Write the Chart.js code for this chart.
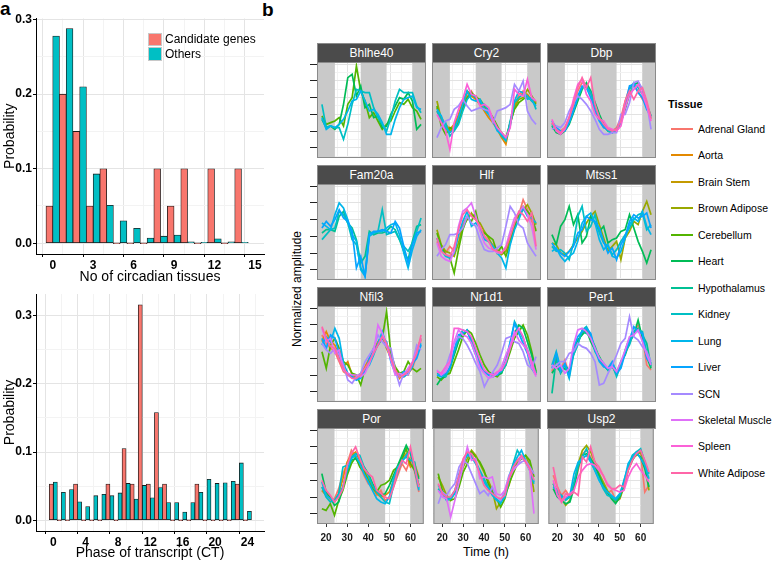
<!DOCTYPE html>
<html>
<head>
<meta charset="utf-8">
<script src="https://cdn.jsdelivr.net/npm/chart.js@4.4.0/dist/chart.umd.min.js"></script>
<style>
  body { margin: 0; background: #fff; font-family: 'Liberation Sans', Arial, sans-serif; }
  #fig { position: relative; width: 773px; height: 562px; overflow: hidden; background: #fff; }
  #fig canvas { position: absolute; }
  .txt { position: absolute; white-space: nowrap; color: #000; }
  .panelLabel { font-weight: bold; font-size: 19px; line-height: 19px; }
  .strip { position: absolute; box-sizing: border-box; background: #4b4b4b; border: 1px solid #8a8a8a;
           color: #fff; font-size: 12px; text-align: center; line-height: 18px; }
  .legA { position: absolute; left: 148px; top: 32px; font-size: 12px; }
  .legA .row { height: 14.5px; line-height: 14.5px; display: flex; align-items: center; }
  .legA .key { width: 14px; height: 13.5px; box-sizing: border-box; border: 1px solid #c8c8c8; margin-right: 3px; }
  .legB { position: absolute; left: 668px; top: 0; }
  .legB .title { position: absolute; left: 0; top: 98px; font-weight: bold; font-size: 11px; }
  .legB .item { position: absolute; left: 3px; height: 14px; font-size: 10.5px; line-height: 14px; white-space: nowrap; }
  .legB .line { position: absolute; left: 0; top: 6px; width: 22px; height: 2px; }
  .legB .name { position: absolute; left: 27px; top: 0; }
</style>
</head>
<body>
<div id="fig">
  <div class="txt panelLabel" style="left:0px;top:-1px;">a</div>
  <div class="txt panelLabel" style="left:262px;top:0px;">b</div>
  <canvas id="countChart"></canvas>
  <canvas id="phaseChart"></canvas>
  <div class="legA">
    <div class="row"><span class="key" style="background:#F8766D"></span>Candidate genes</div>
    <div class="row"><span class="key" style="background:#00BFC4"></span>Others</div>
  </div>
  <div class="txt" style="left:297px;top:289px;font-size:12px;transform:translate(-50%,-50%) rotate(-90deg);">Normalized amplitude</div>
  <div class="txt" style="left:486px;top:552px;font-size:12.5px;transform:translate(-50%,-50%);">Time (h)</div>
  <div class="legB" id="legB"><div class="title">Tissue</div></div>
</div>
<script>
// ---- panel a data ----
const tissueCounts = [0,1,2,3,4,5,6,7,8,9,10,11,12,13,14];
const candidateCountProb = [0.05,0.2,0.15,0.05,0.1,0,0,0,0.1,0.05,0.1,0,0.1,0,0.1];
const otherCountProb = [0.278,0.288,0.21,0.093,0.051,0.03,0.02,0.007,0.0095,0.011,0.002,0.001,0.006,0.002,0.001];
const countTicks = [0,3,6,9,12,15];

const phases = [0,1,2,3,4,5,6,7,8,9,10,11,12,13,14,15,16,17,18,19,20,21,22,23,24];
const candidatePhaseProb = [0.053,0,0,0.053,0,0,0,0.053,0,0.105,0.053,0.316,0.053,0.158,0.053,0,0,0,0.053,0,0,0,0,0.053,0];
const otherPhaseProb = [0.056,0.041,0.045,0.027,0.02,0.036,0.038,0.036,0.04,0.054,0.031,0.051,0.033,0.048,0.026,0.026,0.012,0.026,0.041,0.06,0.054,0.055,0.057,0.084,0.013];
const phaseTicks = [0,4,8,12,16,20,24];

// ---- panel b data ----
const times = [18,20,22,24,26,28,30,32,34,36,38,40,42,44,46,48,50,52,54,56,58,60,62,64];
const timeTicks = [20,30,40,50,60];
const nightBands = [[10,24],[36,48],[60,70]];
const tissues = ['Adrenal Gland','Aorta','Brain Stem','Brown Adipose','Cerebellum','Heart','Hypothalamus',
  'Kidney','Lung','Liver','SCN','Skeletal Muscle','Spleen','White Adipose'];
const tissueColors = ['#F8766D','#E38900','#C49A00','#99A800','#53B400','#00BC56','#00C094',
  '#00BFC4','#00B6EB','#06A4FF','#A58AFF','#DF70F8','#FB61D7','#FF66A8'];
const genes = ['Bhlhe40','Cry2','Dbp','Fam20a','Hlf','Mtss1','Nfil3','Nr1d1','Per1','Por','Tef','Usp2'];

const bhlhe40 = {
  'Cerebellum': [-0.1,-0.6,-0.5,-0.4,-0.2,-0.7, 0.6,1.0,2.9,1.4,0.8,-0.2, 0.1,-0.4,-0.9,-0.6,-0.4,0.2, 0.7,0.6,0.9,0.4,0.2,-0.3],
  'Heart': [-0.3,-0.8,-0.7,-0.9,-0.6,0.6, 2.2,2.4,1.1,1.7,0.4,0.6, -0.2,-0.1,-0.8,-0.7,0.0,0.5, 1.0,0.9,1.3,0.8,-0.9,-0.6],
  'Kidney': [0.6,-0.8,-0.7,-0.8,-0.8,-1.5, -0.6,0.6,1.5,1.4,1.3,1.3, 0.4,-0.2,-0.6,-1.0,-0.2,0.8, 1.5,1.3,1.3,1.3,0.5,0.1],
  'Lung': [-0.2,-0.9,-0.7,-0.8,-0.6,-0.3, 0.2,0.8,0.9,1.4,0.8,0.2, 0.3,0.0,-0.5,-1.2,-1.2,-0.3, 0.4,0.9,1.0,1.1,0.4,0.3]
};
const cry2 = {
  'Adrenal Gland': [0.2,-0.5,-0.8,-1.0,-0.7,0.0, 0.7,1.1,1.4,0.9,0.6,0.4, 0.0,-0.4,-0.8,-1.2,-1.6,-0.5, 0.5,1.2,1.4,1.0,0.9,0.7],
  'Aorta': [0.4,-0.2,-0.6,-0.9,-0.6,-0.1, 0.8,1.3,1.1,0.9,0.6,0.2, -0.2,-0.5,-0.9,-1.4,-1.8,-0.5, 0.6,1.0,1.3,1.2,0.8,0.6],
  'Brown Adipose': [0.8,-0.3,-0.9,-1.0,-0.8,-0.3, 0.5,1.4,1.2,1.1,0.8,0.4, 0.1,-0.4,-0.8,-1.1,-1.4,-0.6, 0.4,0.9,1.0,1.5,1.1,0.7],
  'Cerebellum': [0.5,-0.7,-1.2,-0.8,-0.9,-0.5, 0.4,1.0,1.3,1.0,0.9,0.5, 0.2,-0.2,-0.7,-1.2,-1.5,-0.5, 0.3,0.7,0.9,1.1,0.8,0.6],
  'Kidney': [0.2,-0.4,-0.5,-1.3,-1.0,-0.6, 0.2,0.9,1.2,1.0,0.7,0.6, 0.2,-0.3,-0.9,-1.3,-1.6,-0.4, 0.7,1.0,1.2,0.9,1.0,0.3],
  'Lung': [0.3,-0.1,-0.8,-1.1,-0.9,-0.2, 0.6,1.4,0.9,0.8,0.9,0.3, 0.0,-0.4,-1.0,-1.2,-1.5,-0.7, 0.8,1.4,1.3,1.1,0.8,0.5],
  'SCN': [-1.4,-0.8,-0.4,-0.3,0.3,0.5, 0.9,0.5,0.2,0.3,0.4,0.3, 0.2,-0.5,0.2,0.3,0.4,0.6, 1.8,1.4,2.0,0.2,-0.3,-0.6],
  'Spleen': [0.0,-0.5,-1.0,-2.1,-0.5,0.3, 0.9,1.8,1.2,1.1,0.5,0.6, 0.4,-0.3,-0.8,-1.1,-1.4,-0.8, 1.5,1.2,1.1,2.1,1.0,0.8]
};
const dbp = {
  'Adrenal Gland': [-0.5,-0.9,-1.0,-0.8,-0.2,0.6, 1.4,1.9,1.8,1.2,0.3,-0.3, -0.8,-0.9,-1.0,-0.8,-0.2,0.8, 1.6,1.7,1.4,0.9,0.5,-0.3],
  'Heart': [-0.7,-1.1,-1.2,-1.0,-0.6,0.1, 0.8,1.5,1.9,1.4,0.7,0.0, -0.6,-1.0,-1.1,-1.0,-0.5,0.3, 1.2,1.8,1.9,1.5,0.6,-0.1],
  'Kidney': [-0.6,-1.0,-1.1,-0.9,-0.4,0.3, 1.0,1.6,1.7,1.3,0.5,-0.2, -0.7,-1.0,-1.1,-0.9,-0.5,0.5, 1.5,1.9,1.6,1.2,0.4,-0.2],
  'Liver': [-0.4,-0.8,-1.0,-1.0,-0.5,0.2, 1.1,1.7,1.6,1.0,0.2,-0.4, -0.8,-0.9,-1.0,-0.9,-0.4,0.6, 1.7,1.8,1.3,1.0,0.3,-0.1],
  'SCN': [-0.9,-0.7,-0.8,-0.5,0.2,0.7, 1.1,0.9,0.6,0.2,-0.3,-0.9, -1.2,-1.2,-1.1,-1.1,0.0,0.0, 0.7,1.9,2.0,1.5,0.7,-0.9],
  'Spleen': [-0.3,-1.0,-1.2,-0.9,-0.2,0.9, 1.8,2.1,1.2,0.8,0.0,-0.3, -0.4,-0.8,-0.9,-1.0,-0.7,0.4, 1.2,1.5,1.8,1.2,0.5,-0.4],
  'White Adipose': [-0.5,-0.9,-1.1,-0.8,-0.2,0.6, 1.6,2.2,1.6,2.2,0.6,-0.2, -0.6,-0.9,-1.0,-0.9,-0.4,0.8, 1.4,0.9,1.4,1.6,0.8,-0.2]
};
const fam20a = {
  'Hypothalamus': [0.2,0.4,0.4,0.3,1.2,1.5, 0.8,0.5,-0.2,-1.6,-1.2,0.3, 0.1,0.2,0.2,0.3,0.6,0.4, -0.2,-0.9,-1.4,-0.3,0.6,0.7],
  'Kidney': [-0.2,0.1,0.4,0.5,1.5,1.3, 0.8,-0.2,-0.5,-1.9,-2.3,0.2, 0.2,0.3,1.6,0.1,0.2,0.3, -0.2,-0.6,-0.9,-0.4,0.3,1.1],
  'Lung': [0.8,0.6,0.4,1.3,2.0,1.7, 1.0,0.1,-0.3,-2.0,-2.4,0.0, 0.2,0.3,0.3,0.5,0.7,0.8, 0.1,-1.0,-1.9,-0.8,0.0,0.4],
  'Liver': [0.5,0.9,0.6,1.0,1.6,1.1, 0.9,0.3,-1.9,-1.2,-2.4,0.1, 0.3,0.3,0.4,0.3,0.2,0.9, 0.5,-0.6,-1.6,-0.5,0.2,0.3]
};
const hlf = {
  'Adrenal Gland': [-0.3,-0.8,-1.0,-0.6,-0.9,0.0, 0.7,1.2,1.3,1.1,0.5,0.0, -0.3,-0.5,-0.8,-1.0,-0.9,-0.2, 0.6,1.3,2.2,1.6,0.9,0.4],
  'Brown Adipose': [0.4,-0.5,-0.9,-1.0,-1.2,-0.4, 0.6,1.0,1.4,1.0,0.8,0.3, -0.1,-0.6,-0.9,-1.1,-0.9,-0.1, 0.7,1.2,1.6,1.9,1.4,0.7],
  'Cerebellum': [0.2,-0.6,-1.1,-1.3,-2.2,-0.8, 0.4,1.1,0.9,1.5,0.4,0.2, 0.0,-0.2,-1.0,-0.6,-1.2,-0.4, 0.5,1.4,1.8,1.5,1.2,0.3],
  'Lung': [-0.1,-0.8,-1.2,-1.3,-1.0,0.1, 0.9,1.5,0.6,0.8,0.5,-0.2, -0.3,-0.6,-1.0,-1.3,-1.9,-0.5, 0.4,1.0,1.7,1.2,1.1,0.8],
  'SCN': [-1.2,-0.8,-0.5,0.1,0.1,0.2, 0.5,1.2,0.8,0.6,-0.2,-0.8, -0.9,-0.9,-0.7,-0.5,0.6,1.8, 1.4,0.7,0.5,-0.4,-0.8,-1.2],
  'Skeletal Muscle': [-0.4,-1.2,-1.4,-1.5,-0.9,0.6, 1.5,1.7,2.0,1.2,0.3,-0.4, -0.7,-0.8,-1.0,-1.0,-0.6,0.3, 1.1,1.4,1.8,1.3,0.6,-0.8],
  'White Adipose': [-0.1,-0.9,-1.1,-1.2,-0.6,0.4, 1.3,1.6,1.2,1.0,0.6,0.0, -0.3,-0.8,-0.9,-1.0,-0.7,0.0, 0.8,1.5,1.3,0.9,1.4,-0.6]
};
const mtss1 = {
  'Brown Adipose': [-0.4,-0.5,-1.0,-1.1,-0.9,-0.5, -0.1,0.3,0.8,1.2,1.5,0.7, -0.1,-0.9,-0.6,-0.3,-1.4,-0.1, 0.3,0.9,0.7,1.5,2.1,1.3],
  'Heart': [0.1,-0.5,0.6,1.0,1.8,0.7, 1.3,-0.4,0.0,1.2,0.8,0.3, 0.6,-0.4,-0.2,-0.1,0.3,0.4, 1.3,0.5,-0.3,-0.9,-1.6,-0.8],
  'Kidney': [-0.6,-0.9,-0.8,-1.0,-1.4,-0.4, 1.2,1.8,0.3,0.6,1.3,0.2, -0.4,-0.6,-1.1,-0.8,-0.3,0.1, 0.5,1.0,1.3,1.4,0.4,0.7],
  'Lung': [-0.9,-0.7,-1.2,-1.5,-1.2,-1.0, -0.3,0.8,1.2,1.4,0.8,-0.2, -0.8,-0.5,-1.2,-1.3,-0.9,-0.1, 0.7,1.1,0.9,1.5,0.6,0.1],
  'Liver': [-0.4,-0.8,-1.0,-1.2,-0.9,-0.6, 0.2,0.4,1.2,1.0,0.9,0.5, -0.3,-1.0,-0.7,-1.4,-0.5,0.0, 0.9,1.3,1.1,1.2,1.4,0.5]
};
const nfil3 = {
  'Adrenal Gland': [1.4,0.9,0.6,0.4,-0.2,-0.8, -1.0,-1.0,-1.2,-1.1,-0.6,-0.2, 0.3,0.9,1.5,0.9,0.2,-0.6, -1.0,-1.1,-0.9,-0.6,0.2,1.1],
  'Aorta': [1.0,1.6,1.0,0.8,0.1,-0.5, -0.2,-1.0,-1.1,-0.9,-0.5,0.0, 0.5,1.0,1.3,0.6,0.0,-0.6, -1.2,-0.9,-1.0,-0.4,0.5,1.2],
  'Cerebellum': [0.4,-0.6,0.8,1.2,0.6,-0.2, -0.4,-0.9,-1.0,-1.6,-0.6,-0.3, 0.6,0.8,1.2,2.8,0.3,-0.5, -0.9,-0.8,-0.2,-0.6,-0.8,-0.6],
  'Lung': [0.8,1.3,1.0,1.8,1.2,-0.3, -0.9,-1.1,-1.3,-1.2,-0.7,-0.4, 0.2,0.9,1.6,0.7,0.1,-0.8, -1.0,-1.1,-0.9,-0.5,0.4,0.9],
  'Liver': [1.2,0.6,1.4,1.2,0.3,-0.6, -1.0,-1.1,-1.3,-1.0,-0.8,0.0, 0.4,0.8,1.2,1.0,-0.2,-0.9, -1.1,-0.8,-0.8,-0.3,0.0,0.8],
  'SCN': [0.9,0.5,0.3,0.6,0.2,-0.4, -1.3,-1.5,-1.1,-0.9,-0.2,0.2, 0.6,1.4,1.0,0.7,0.6,-0.7, -1.6,-0.9,-1.0,-0.3,0.8,0.5],
  'Skeletal Muscle': [1.8,1.0,1.2,0.3,0.5,-0.7, -0.9,-1.0,-1.0,-1.1,-0.9,-0.3, 0.4,2.0,1.5,0.8,-0.1,-1.0, -0.9,-1.0,-0.6,-0.2,0.4,1.2],
  'White Adipose': [1.9,1.2,0.7,0.6,-0.1,-0.6, -1.0,-1.2,-1.2,-1.0,-0.6,-0.2, 0.3,0.8,1.3,0.9,0.0,-0.7, -1.1,-1.0,-0.8,-0.3,0.3,1.4]
};
const nr1d1 = {
  'Cerebellum': [-1.1,-1.3,-1.0,-0.9,-0.2,0.5, 1.3,1.7,1.5,0.9,0.2,-0.4, -0.8,-1.0,-1.1,-0.8,-0.4,0.4, 1.2,1.6,2.0,1.4,0.4,-0.8],
  'Heart': [-1.6,-1.2,-1.1,-0.6,0.2,1.0, 1.5,1.6,1.2,0.5,-0.2,-0.8, -0.9,-1.0,-1.0,-0.9,-0.2,0.7, 1.5,2.0,1.8,1.0,0.2,-0.9],
  'Kidney': [-0.9,-1.0,-1.1,-0.5,0.4,1.2, 1.7,1.6,1.1,0.4,-0.3,-0.8, -1.0,-1.1,-0.9,-0.8,-0.4,0.9, 2.2,1.7,1.2,0.5,-0.3,-0.9],
  'Liver': [-1.0,-1.1,-0.9,-0.6,0.5,1.4, 1.5,1.7,0.9,0.2,-0.4,-0.8, -1.0,-0.9,-1.0,-0.7,-0.1,1.0, 2.1,1.5,0.9,0.3,-0.6,-1.0],
  'SCN': [-0.8,-0.9,-0.6,0.2,0.9,1.3, 1.2,0.8,0.3,-0.3,-0.8,-1.7, -1.2,-0.8,-0.4,0.3,1.2,1.3, 1.0,0.9,0.4,-0.4,-0.6,0.1],
  'Skeletal Muscle': [-0.7,-1.0,-0.8,-0.3,1.0,1.7, 1.4,1.3,0.9,0.2,-0.6,-0.9, -1.2,-1.1,-0.9,-0.5,0.2,0.8, 1.6,1.1,0.8,0.5,-0.5,-1.1],
  'Spleen': [-0.8,-0.9,-0.5,-0.2,1.8,1.8, 1.7,1.6,1.3,0.6,-0.1,-0.7, -0.9,-1.0,-0.8,-0.7,-0.2,0.6, 1.4,1.8,1.3,0.4,-0.2,-1.0]
};
const per1 = {
  'Adrenal Gland': [-0.8,0.2,-0.7,-0.1,-1.0,0.3, 1.0,1.5,1.8,1.2,0.6,-0.1, -0.5,-0.6,-0.4,-1.0,-0.3,0.3, 0.9,1.5,2.0,1.3,-0.4,-0.7],
  'Heart': [-0.9,-0.5,-0.8,-0.6,-0.9,0.6, 1.1,1.4,1.7,1.0,0.5,0.1, -0.4,-0.7,-0.5,-0.9,-0.2,0.2, 1.0,1.4,2.3,1.2,0.1,-0.6],
  'Hypothalamus': [-2.1,0.0,-0.9,-0.4,-0.7,0.2, 0.9,1.6,1.5,1.3,0.7,0.0, -0.4,-0.7,-0.3,-0.8,-0.5,0.5, 1.2,1.6,1.8,1.4,0.9,-0.5],
  'Kidney': [-0.4,0.4,-0.6,-0.4,-1.2,0.2, 0.8,1.7,1.9,1.4,0.4,0.0, -0.3,-0.7,-0.4,-1.1,-0.4,0.4, 0.8,1.6,1.7,1.6,0.3,-0.4],
  'Liver': [-0.6,0.3,-0.8,-0.3,-1.1,0.6, 1.3,1.6,1.8,1.5,0.5,-0.2, -0.5,-0.6,-0.2,-0.9,-0.6,0.3, 1.1,1.9,1.6,1.5,0.0,-0.3],
  'SCN': [-0.6,-0.4,-0.2,-0.2,0.3,0.4, 0.9,0.7,0.6,0.3,-0.2,-1.6, -1.5,-0.9,-0.4,0.2,0.9,1.2, 2.5,1.3,1.1,0.7,0.4,-0.2],
  'Skeletal Muscle': [-0.4,-0.6,-0.4,-0.9,-0.6,0.8, 1.7,1.8,1.6,1.2,0.6,0.0, -0.3,-0.6,-0.5,-0.8,-0.2,0.5, 1.3,1.4,1.7,1.0,0.2,-0.4]
};
const por = {
  'Adrenal Gland': [-0.4,-0.8,-1.2,-1.1,-0.5,0.4, 1.0,1.8,1.4,0.9,0.3,-0.2, -0.4,-0.9,-0.6,-1.2,-1.0,-0.4, 0.3,1.0,0.6,1.3,0.5,-0.7],
  'Aorta': [-0.6,-0.9,-1.0,-1.3,-0.8,0.1, 1.1,1.5,1.7,1.2,0.6,0.1, -0.4,-0.8,-1.0,-0.9,-0.7,0.0, 0.6,1.3,1.6,0.8,1.0,0.2],
  'Cerebellum': [-1.7,-1.8,-1.4,-2.1,-1.2,-0.6, 0.3,1.0,1.4,0.8,0.5,0.0, -0.5,-0.7,-0.3,-0.2,0.0,0.6, 0.8,1.3,1.9,1.0,0.6,-0.3],
  'Heart': [0.4,-0.7,-1.0,-1.5,-1.3,-0.4, 0.5,1.2,1.3,1.0,0.8,0.4, -0.2,-0.6,-0.9,-0.8,-0.3,0.3, 0.9,1.5,2.1,1.6,0.8,0.1],
  'Kidney': [-0.4,-1.0,-1.3,-1.2,-0.8,0.8, 0.9,1.4,1.6,1.5,0.8,0.3, -0.3,-0.7,-1.0,-1.3,-1.4,-0.3, 0.5,1.2,1.4,1.2,1.1,-0.5],
  'Lung': [-0.1,-0.9,-1.1,-1.3,-0.9,-0.4, 0.6,1.3,1.5,1.0,0.4,-0.1, -0.6,-1.1,-1.3,-1.4,-1.0,0.1, 0.8,1.1,1.5,1.8,0.7,-0.6],
  'White Adipose': [0.0,-0.6,-0.9,-1.3,-1.0,-0.5, 0.9,1.6,2.0,1.3,0.7,0.4, 0.2,-0.6,-0.8,-1.0,-1.1,-0.4, 0.6,1.2,1.0,2.0,0.8,-0.4]
};
const tef = {
  'Brown Adipose': [0.2,-0.3,-0.9,-1.2,-0.7,0.0, 0.8,1.3,1.8,1.5,1.0,0.5, 0.0,-0.6,-1.7,-1.3,-0.8,-0.3, 0.6,1.2,1.4,1.5,0.9,-0.7],
  'Cerebellum': [0.4,-0.6,-1.0,-1.2,-1.1,-0.4, 0.5,1.0,1.7,1.4,1.1,0.6, -0.2,-0.7,-1.1,-1.6,-1.1,-0.2, 0.4,1.0,1.3,1.5,1.2,0.2],
  'Kidney': [-0.5,-0.8,-1.1,-1.0,-0.6,0.2, 1.0,1.6,1.5,1.1,0.6,0.1, -0.4,-0.8,-1.1,-1.4,-0.9,0.2, 1.0,1.8,1.4,1.1,0.6,-0.2],
  'Lung': [-0.3,-0.7,-1.2,-1.1,-0.8,0.4, 1.1,1.5,1.4,1.0,0.5,-0.1, -0.5,-0.9,-1.2,-1.3,-1.0,0.0, 0.9,1.4,1.8,1.2,0.8,-0.1],
  'SCN': [-1.4,-0.7,-0.9,-0.5,-0.2,0.8, 1.2,1.0,0.4,-0.2,-0.8,-0.6, -0.9,-0.4,-1.0,-1.2,-0.6,0.3, 0.7,0.9,1.1,1.2,0.8,0.4],
  'Skeletal Muscle': [-0.6,-1.0,-1.1,-2.2,-1.2,-0.1, 0.9,2.0,1.2,1.3,0.1,0.2, 0.1,0.2,-0.8,-0.9,-0.6,0.1, 0.6,0.9,1.4,1.1,0.6,-2.0],
  'White Adipose': [-0.2,-0.8,-1.0,-1.0,-0.6,0.3, 1.3,1.7,1.6,1.1,0.4,-0.3, -0.6,-0.8,-1.0,-1.1,-0.9,0.1, 0.8,1.2,1.5,1.1,0.7,0.0]
};
const usp2 = {
  'Adrenal Gland': [0.3,-0.4,-0.9,-0.6,-1.0,-0.2, 0.6,1.6,1.8,1.4,0.8,0.2, -0.4,-0.8,-0.6,-1.2,-1.1,-0.2, 0.6,1.2,1.7,1.6,-0.7,-0.3],
  'Brown Adipose': [-0.2,-0.7,-1.1,-1.5,-1.2,-0.2, 1.0,1.8,2.1,1.7,1.1,0.4, -0.1,-0.6,-1.0,-1.3,-1.1,-0.4, 0.6,1.3,1.5,1.7,1.0,-0.6],
  'Heart': [-0.5,-1.0,-1.2,-1.4,-1.3,-0.5, 0.8,1.5,1.6,1.3,0.9,0.3, -0.3,-0.7,-1.1,-1.4,-1.0,-0.3, 0.7,1.2,1.6,1.4,0.7,-0.4],
  'Kidney': [-0.2,-0.8,-0.9,-1.2,-1.0,-0.1, 0.9,1.4,1.9,1.2,0.6,0.1, -0.5,-0.9,-1.0,-1.2,-0.9,0.0, 0.8,1.5,1.7,1.9,1.1,0.4],
  'Lung': [-0.4,-0.6,-1.0,-1.1,-0.9,0.4, 1.1,1.3,1.5,1.1,0.6,0.0, -0.4,-0.7,-0.9,-1.1,-0.8,-0.1, 1.0,1.4,1.7,1.3,0.9,0.1],
  'Spleen': [0.0,-0.9,-1.3,-1.0,-0.8,-0.6, 0.2,0.6,0.9,1.0,0.9,0.6, 0.3,-0.2,-0.5,-0.6,-0.7,-0.6, 0.2,0.7,1.0,0.6,0.3,-0.1],
  'White Adipose': [0.8,-0.4,-1.3,-0.8,-0.9,-0.7, -0.9,1.4,1.1,2.0,1.1,0.8, 0.3,-0.3,-0.5,-0.5,-0.3,-0.4, 0.6,1.2,1.6,1.8,1.2,0.5]
};
const geneSeries = [bhlhe40, cry2, dbp, fam20a, hlf, mtss1, nfil3, nr1d1, per1, por, tef, usp2];

// ---- layout ----
const fig = document.getElementById('fig');
Chart.defaults.font.family = "'Liberation Sans', Arial, sans-serif";
Chart.defaults.color = '#000';

function barChart(id, top, height, padTop, xs, cand, other, xMin, xMax, yMin, yMax, majorX, minorStep, xTitle) {
  const cv = document.getElementById(id);
  cv.width = 270; cv.height = height;
  cv.style.left = '0px'; cv.style.top = top + 'px';
  const xGrid = [];
  for (let v = 0; v <= majorX[majorX.length - 1] + 0.001; v += minorStep) xGrid.push(+v.toFixed(2));
  const isMajorX = v => majorX.includes(v);
  const yGrid = [0, 0.05, 0.1, 0.15, 0.2, 0.25, 0.3];
  const isMajorY = v => Math.round(v * 100) % 10 === 0;
  const bar = (vals, color) => ({
    data: xs.map((x, i) => ({x, y: vals[i]})),
    backgroundColor: color, borderColor: '#1a1a1a', borderWidth: 0.8,
    borderSkipped: false, minBarLength: 1,
    categoryPercentage: 1, barPercentage: 1
  });
  new Chart(cv, {
    type: 'bar',
    data: { datasets: [bar(cand, '#F8766D'), bar(other, '#00BFC4')] },
    options: {
      responsive: false, animation: false, events: [],
      layout: { padding: { top: padTop, right: 6, left: 0, bottom: 0 } },
      plugins: { legend: { display: false }, tooltip: { enabled: false } },
      scales: {
        x: {
          type: 'linear', min: xMin, max: xMax, offset: false,
          afterBuildTicks: s => { s.ticks = xGrid.map(v => ({value: v})); },
          afterFit: s => { s.height = height === 286 ? 32 : 31; },
          grid: { color: c => (c.tick && isMajorX(c.tick.value)) ? '#e4e4e4' : '#f3f3f3',
                  tickLength: 3, tickColor: c => (c.tick && isMajorX(c.tick.value)) ? '#000' : 'rgba(0,0,0,0)' },
          border: { display: true, color: '#000', width: 1 },
          ticks: { autoSkip: false, maxRotation: 0, padding: 1, font: { size: 12, weight: 'bold' },
                   callback: v => isMajorX(v) ? String(v) : '' },
          title: { display: true, text: xTitle, font: { size: 14 }, padding: { top: 0, bottom: 0 } }
        },
        y: {
          min: yMin, max: yMax,
          afterBuildTicks: s => { s.ticks = yGrid.map(v => ({value: v})); },
          afterFit: s => { s.width = 36; },
          grid: { color: c => (c.tick && isMajorY(c.tick.value)) ? '#e4e4e4' : '#f3f3f3',
                  tickLength: 3, tickColor: c => (c.tick && isMajorY(c.tick.value)) ? '#000' : 'rgba(0,0,0,0)' },
          border: { display: true, color: '#000', width: 1 },
          ticks: { padding: 1, font: { size: 12, weight: 'bold' },
                   callback: v => isMajorY(v) ? v.toFixed(1) : '' },
          title: { display: true, text: 'Probability', font: { size: 14 }, padding: { top: 2, bottom: 0 } }
        }
      }
    }
  });
}

barChart('countChart', 0, 286, 18.5, tissueCounts, candidateCountProb, otherCountProb,
         -1.24, 15.67, -0.0144, 0.3015, countTicks, 1.5, 'No of circadian tissues');
barChart('phaseChart', 285, 277, 9, phases, candidatePhaseProb, otherPhaseProb,
         -2.14, 26.05, -0.0158, 0.3318, phaseTicks, 2, 'Phase of transcript (CT)');

// ---- facets ----
const panelLeft = [317, 432, 547];
const panelTop = [62, 184, 306, 428];
const panelW = 109, panelH = 96;
const xGridB = [20,25,30,35,40,45,50,55,60,65];
const yGridB = [-2.5,-2,-1.5,-1,-0.5,0,0.5,1,1.5,2,2.5,3];
const isInt = v => Math.abs(v - Math.round(v)) < 1e-6;

const bandPlugin = {
  id: 'nightBands',
  beforeDatasetsDraw(chart) {
    const {ctx, chartArea: a, scales: {x}} = chart;
    ctx.save();
    ctx.fillStyle = '#c9c9c9';
    nightBands.forEach(([s, e]) => {
      const x0 = Math.max(a.left, x.getPixelForValue(s));
      const x1 = Math.min(a.right, x.getPixelForValue(e));
      if (x1 > x0) ctx.fillRect(x0, a.top, x1 - x0, a.bottom - a.top);
    });
    ctx.restore();
  }
};
const framePlugin = {
  id: 'frame',
  afterDatasetsDraw(chart) {
    const {ctx, chartArea: a} = chart;
    ctx.save();
    ctx.strokeStyle = '#8a8a8a';
    ctx.lineWidth = 1;
    ctx.strokeRect(a.left + 0.5, a.top + 0.5, a.right - a.left - 1, a.bottom - a.top - 1);
    ctx.restore();
  }
};

genes.forEach((gene, g) => {
  const col = g % 3, row = Math.floor(g / 3);
  const L = panelLeft[col], T = panelTop[row];
  const padL = col === 0 ? 8 : 0, padB = row === 3 ? 22 : 0;

  const strip = document.createElement('div');
  strip.className = 'strip';
  strip.textContent = gene;
  strip.style.left = L + 'px'; strip.style.top = (T - 19) + 'px';
  strip.style.width = panelW + 'px'; strip.style.height = '20px';
  fig.appendChild(strip);

  const cv = document.createElement('canvas');
  cv.width = panelW + padL; cv.height = panelH + padB;
  cv.style.left = (L - padL) + 'px'; cv.style.top = T + 'px';
  fig.appendChild(cv);

  const series = geneSeries[g];
  const datasets = Object.keys(series).map(name => {
    const k = tissues.indexOf(name);
    return {
      label: name,
      data: times.map((t, i) => ({x: t, y: series[name][i]})),
      borderColor: tissueColors[k], borderWidth: 1.7,
      pointRadius: 0, tension: 0, fill: false, order: 20 - k
    };
  });

  new Chart(cv, {
    type: 'line',
    data: { datasets },
    options: {
      responsive: false, animation: false, events: [],
      layout: { padding: 0 },
      plugins: { legend: { display: false }, tooltip: { enabled: false } },
      scales: {
        x: {
          type: 'linear', min: 15.7, max: 66.3,
          afterBuildTicks: s => { s.ticks = xGridB.map(v => ({value: v})); },
          afterFit: s => { s.height = padB; },
          grid: { color: c => (c.tick && c.tick.value % 10 === 0) ? '#e2e2e2' : '#f2f2f2',
                  drawTicks: row === 3, tickLength: 3,
                  tickColor: c => (c.tick && timeTicks.includes(c.tick.value)) ? '#333' : 'rgba(0,0,0,0)' },
          border: { display: false },
          ticks: { display: row === 3, autoSkip: false, maxRotation: 0, padding: 5,
                   font: { size: 10, weight: 'bold' }, color: '#1a1a1a',
                   callback: v => timeTicks.includes(v) ? String(v) : '' }
        },
        y: {
          min: -2.62, max: 3.14,
          afterBuildTicks: s => { s.ticks = yGridB.map(v => ({value: v})); },
          afterFit: s => { s.width = padL; },
          grid: { color: c => (c.tick && isInt(c.tick.value)) ? '#e2e2e2' : '#f2f2f2',
                  drawTicks: col === 0, tickLength: 7,
                  tickColor: c => (c.tick && isInt(c.tick.value)) ? '#222' : 'rgba(0,0,0,0)' },
          border: { display: false },
          ticks: { display: false }
        }
      }
    },
    plugins: [bandPlugin, framePlugin]
  });
});

// ---- tissue legend ----
const legB = document.getElementById('legB');
tissues.forEach((name, k) => {
  const item = document.createElement('div');
  item.className = 'item';
  item.style.top = (129 + 26.45 * k - 7) + 'px';
  item.innerHTML = '<span class="line" style="background:' + tissueColors[k] + '"></span><span class="name">' + name + '</span>';
  legB.appendChild(item);
});
</script>
</body>
</html>
